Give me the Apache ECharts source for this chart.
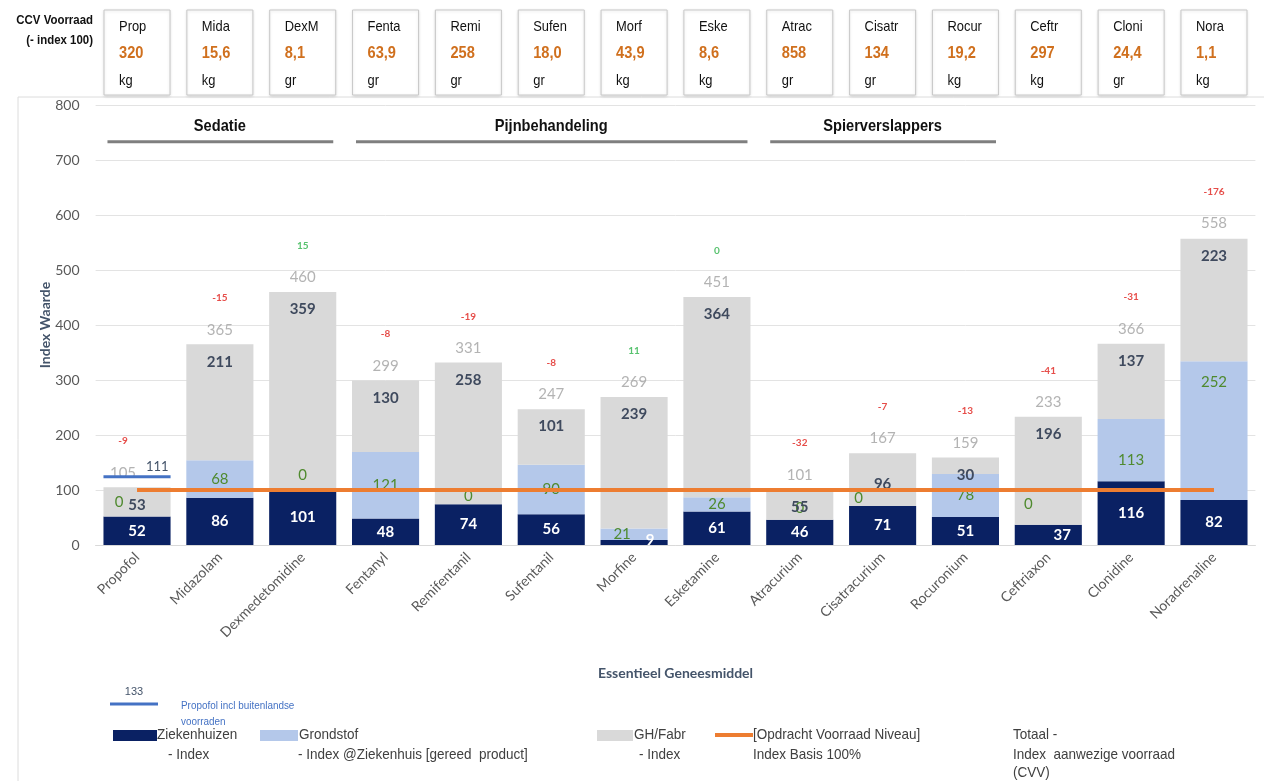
<!DOCTYPE html>
<html>
<head>
<meta charset="utf-8">
<script src="https://cdn.jsdelivr.net/npm/echarts@6/dist/echarts.min.js"></script>
<style>
html,body{margin:0;padding:0;background:#fff;}
#chart{width:1264px;height:781px;}
</style>
</head>
<body>
<div id="chart"></div>
<script>
// ---------- data ----------
const categories = ['Propofol','Midazolam','Dexmedetomidine','Fentanyl','Remifentanil','Sufentanil','Morfine','Esketamine','Atracurium','Cisatracurium','Rocuronium','Ceftriaxon','Clonidine','Noradrenaline'];
const ziekenhuizen = [52, 86, 101, 48, 74, 56, 9, 61, 46, 71, 51, 37, 116, 82];
const grondstof    = [0, 68, 0, 121, 0, 90, 21, 26, 0, 0, 78, 0, 113, 252];
const ghFabr       = [53, 211, 359, 130, 258, 101, 239, 364, 55, 96, 30, 196, 137, 223];
const totals       = [105, 365, 460, 299, 331, 247, 269, 451, 101, 167, 159, 233, 366, 558];
const differences  = [-9, -15, 15, -8, -19, -8, 11, 0, -32, -7, -13, -41, -31, -176];
const opdrachtNiveau = [100,100,100,100,100,100,100,100,100,100,100,100,100,100];
const propofolBuitenland = 124;      // line height
const propofolBuitenlandLabel = '111';
const propofolLegendValue = '133';

const ccvAbbr  = ['Prop','Mida','DexM','Fenta','Remi','Sufen','Morf','Eske','Atrac','Cisatr','Rocur','Ceftr','Cloni','Nora'];
const ccvValue = ['320','15,6','8,1','63,9','258','18,0','43,9','8,6','858','134','19,2','297','24,4','1,1'];
const ccvUnit  = ['kg','kg','gr','gr','gr','gr','kg','kg','gr','gr','kg','kg','gr','kg'];

const groupNames = ['Sedatie','Pijnbehandeling','Spierverslappers'];
const groupFrom  = [0, 3, 8];
const groupTo    = [2, 7, 10];

const yTicks = [0,100,200,300,400,500,600,700,800];

// ---------- layout helpers (not data) ----------
const narrow = '"Liberation Sans Narrow","Liberation Sans",Arial,sans-serif';
const body = 'Lato,"Open Sans",sans-serif';
const grondNudge = {0:[-18,-14], 2:[0,-14], 4:[0,-8], 6:[-12,0], 8:[0,-12], 9:[-24,-8], 11:[-20,-20], 12:[0,10], 13:[0,-48]};
const zhNudge = {6:[16,-2], 11:[14,0]};
const ghNudge = {9:[0,14]};
const totNudge = {0:[-14,0]};

const chart = echarts.init(document.getElementById('chart'), null, {renderer:'canvas'});

function withNudge(arr, nudge){
  return arr.map((v,i)=> nudge[i] ? {value:v, label:{offset:nudge[i]}} : v);
}
function txt(text, x, y, font, fill, align, sx, extra){
  return Object.assign({type:'text', x:x, y:y, scaleX:sx||1, style:{text:text, x:0, y:0, align:align||'left', verticalAlign:'middle', fill:fill, font:font}}, extra||{});
}

const option = {
  animation:false,
  backgroundColor:'#ffffff',
  grid:{left:95.6, right:8.6, top:105, bottom:236, containLabel:false},
  xAxis:{
    type:'category', data:categories,
    name:'Essentieel Geneesmiddel', nameLocation:'middle', nameGap:121, nameMoveOverlap:false,
    nameTextStyle:{fontFamily:body, fontWeight:'bold', fontSize:14, color:'#44546A'},
    axisLine:{show:true, lineStyle:{color:'#D9D9D9'}},
    axisTick:{show:false},
    axisLabel:{rotate:45, fontFamily:body, fontSize:14, color:'#595959', margin:10, interval:0}
  },
  yAxis:{
    type:'value', min:yTicks[0], max:yTicks[yTicks.length-1], interval:100,
    name:'Index Waarde', nameLocation:'middle', nameGap:43, nameRotate:90, nameMoveOverlap:false,
    nameTextStyle:{fontFamily:body, fontWeight:'bold', fontSize:14, color:'#44546A'},
    axisLine:{show:false}, axisTick:{show:false},
    axisLabel:{fontFamily:body, fontSize:14, color:'#595959', margin:16},
    splitLine:{lineStyle:{color:'#E3E3E3', width:1}}
  },
  series:[
    {
      name:'Ziekenhuizen', type:'bar', stack:'s', barCategoryGap:'19%',
      data: withNudge(ziekenhuizen, zhNudge),
      itemStyle:{color:'#0A2163'},
      label:{show:true, position:'inside', color:'#ffffff', fontFamily:body, fontWeight:'bold', fontSize:15}
    },
    {
      name:'Grondstof', type:'bar', stack:'s',
      data: withNudge(grondstof, grondNudge),
      itemStyle:{color:'#B4C8EA'},
      label:{show:true, position:'inside', color:'#4F8A2E', fontFamily:body, fontSize:15}
    },
    {
      name:'GH/Fabr', type:'bar', stack:'s',
      data: withNudge(ghFabr, ghNudge),
      itemStyle:{color:'#D9D9D9'},
      label:{show:true, position:'insideTop', distance:10, color:'#3F4A5E', fontFamily:body, fontWeight:'bold', fontSize:15}
    },
    {
      name:'Totaal', type:'scatter', data:withNudge(totals, totNudge), symbolSize:1,
      itemStyle:{color:'rgba(0,0,0,0)'}, z:5,
      label:{
        show:true, position:'top', distance:5,
        formatter:(p)=>{
          const d = differences[p.dataIndex];
          const tag = d < 0 ? 'neg' : 'pos';
          return '{' + tag + '|' + d + '}\n{t|' + totals[p.dataIndex] + '}';
        },
        rich:{
          neg:{color:'#E0201B', fontFamily:body, fontWeight:'bold', fontSize:10, lineHeight:46, align:'center'},
          pos:{color:'#2DB34A', fontFamily:body, fontWeight:'bold', fontSize:10, lineHeight:46, align:'center'},
          t:{color:'#A0A0A0', fontFamily:body, fontSize:15, lineHeight:18, align:'center'}
        }
      }
    },
    {
      name:'Opdracht', type:'line', data:opdrachtNiveau, symbol:'none', z:4,
      lineStyle:{color:'#ED7D31', width:4}
    },
    {
      name:'Propofol buitenland', type:'custom', z:6, clip:false,
      data:[[0, propofolBuitenland]],
      renderItem:(params, api)=>{
        const p = api.coord([api.value(0), api.value(1)]);
        const w = api.size([1,0])[0]*0.81;
        return {type:'group', children:[
          {type:'line', shape:{x1:p[0]-w/2, y1:p[1], x2:p[0]+w/2, y2:p[1]}, style:{stroke:'#4472C4', lineWidth:3}},
          {type:'text', style:{text:propofolBuitenlandLabel, x:p[0]+w/2-2, y:p[1]-3, align:'right', verticalAlign:'bottom', fill:'#44546A', font:'13px '+body}}
        ]};
      }
    },
    {
      name:'Groups', type:'custom', z:6, clip:false,
      data: groupFrom.map((f,i)=>[f, groupTo[i]]),
      renderItem:(params, api)=>{
        const a = api.coord([api.value(0), 733]);
        const b = api.coord([api.value(1), 733]);
        const w = api.size([1,0])[0]*0.81;
        const t = api.coord([0, 761]);
        return {type:'group', children:[
          {type:'line', shape:{x1:a[0]-w/2+4, y1:a[1], x2:b[0]+w/2-3, y2:b[1]}, style:{stroke:'#7F7F7F', lineWidth:3}},
          txt(groupNames[params.dataIndex], (a[0]+b[0])/2, t[1], 'bold 17px '+narrow, '#111', 'center', 0.86)
        ]};
      }
    },
    {
      name:'CCV', type:'custom', z:10, clip:false,
      data: categories.map((c,i)=>[i, 0]),
      renderItem:(params, api)=>{
        const i = params.dataIndex;
        const x = api.coord([api.value(0), 0])[0];
        const left = x - 33;
        return {type:'group', children:[
          {type:'rect', shape:{x:left, y:10, width:66, height:85}, style:{fill:'#ffffff', stroke:'#C8C8C8', lineWidth:1, shadowBlur:3, shadowColor:'rgba(0,0,0,0.12)', shadowOffsetY:1}},
          txt(ccvAbbr[i], left+15, 27, '15px '+narrow, '#111', 'left', 0.86),
          txt(ccvValue[i], left+15, 53, 'bold 17px '+narrow, '#D0701E', 'left', 0.86),
          txt(ccvUnit[i], left+15, 81, '15px '+narrow, '#111', 'left', 0.86)
        ]};
      }
    }
  ],
  graphic:[
    {type:'rect', z:-10, shape:{x:18, y:97, width:1260, height:720}, style:{fill:'none', stroke:'#DCDCDC', lineWidth:1}},
    txt('CCV Voorraad', 93, 20, 'bold 13px '+narrow, '#111', 'right', 0.88),
    txt('(- index 100)', 93, 40, 'bold 13px '+narrow, '#111', 'right', 0.88),
    // legend
    {type:'line', shape:{x1:110, y1:704, x2:158, y2:704}, style:{stroke:'#4472C4', lineWidth:3}},
    {type:'text', style:{text:propofolLegendValue, x:134, y:697, align:'center', verticalAlign:'bottom', fill:'#44546A', font:'11px '+narrow}},
    txt('Propofol incl buitenlandse', 181, 706, '11px '+narrow, '#4472C4', 'left', 0.9),
    txt('voorraden', 181, 722, '11px '+narrow, '#4472C4', 'left', 0.9),
    {type:'rect', shape:{x:113, y:730, width:44, height:11}, style:{fill:'#0A2163'}},
    txt('Ziekenhuizen', 157, 735, '15px '+narrow, '#404040', 'left', 0.9),
    txt('- Index', 168, 755, '15px '+narrow, '#404040', 'left', 0.9),
    {type:'rect', shape:{x:260, y:730, width:38, height:11}, style:{fill:'#B4C8EA'}},
    txt('Grondstof', 299, 735, '15px '+narrow, '#404040', 'left', 0.9),
    txt('- Index @Ziekenhuis [gereed  product]', 298, 755, '15px '+narrow, '#404040', 'left', 0.9),
    {type:'rect', shape:{x:597, y:730, width:36, height:11}, style:{fill:'#D9D9D9'}},
    txt('GH/Fabr', 634, 735, '15px '+narrow, '#404040', 'left', 0.9),
    txt('- Index', 639, 755, '15px '+narrow, '#404040', 'left', 0.9),
    {type:'line', shape:{x1:715, y1:735, x2:753, y2:735}, style:{stroke:'#ED7D31', lineWidth:4}},
    txt('[Opdracht Voorraad Niveau]', 753, 735, '15px '+narrow, '#404040', 'left', 0.9),
    txt('Index Basis 100%', 753, 755, '15px '+narrow, '#404040', 'left', 0.9),
    txt('Totaal -', 1013, 735, '15px '+narrow, '#404040', 'left', 0.9),
    txt('Index  aanwezige voorraad', 1013, 755, '15px '+narrow, '#404040', 'left', 0.9),
    txt('(CVV)', 1013, 773, '15px '+narrow, '#404040', 'left', 0.9)
  ]
};
chart.setOption(option);
</script>
</body>
</html>
